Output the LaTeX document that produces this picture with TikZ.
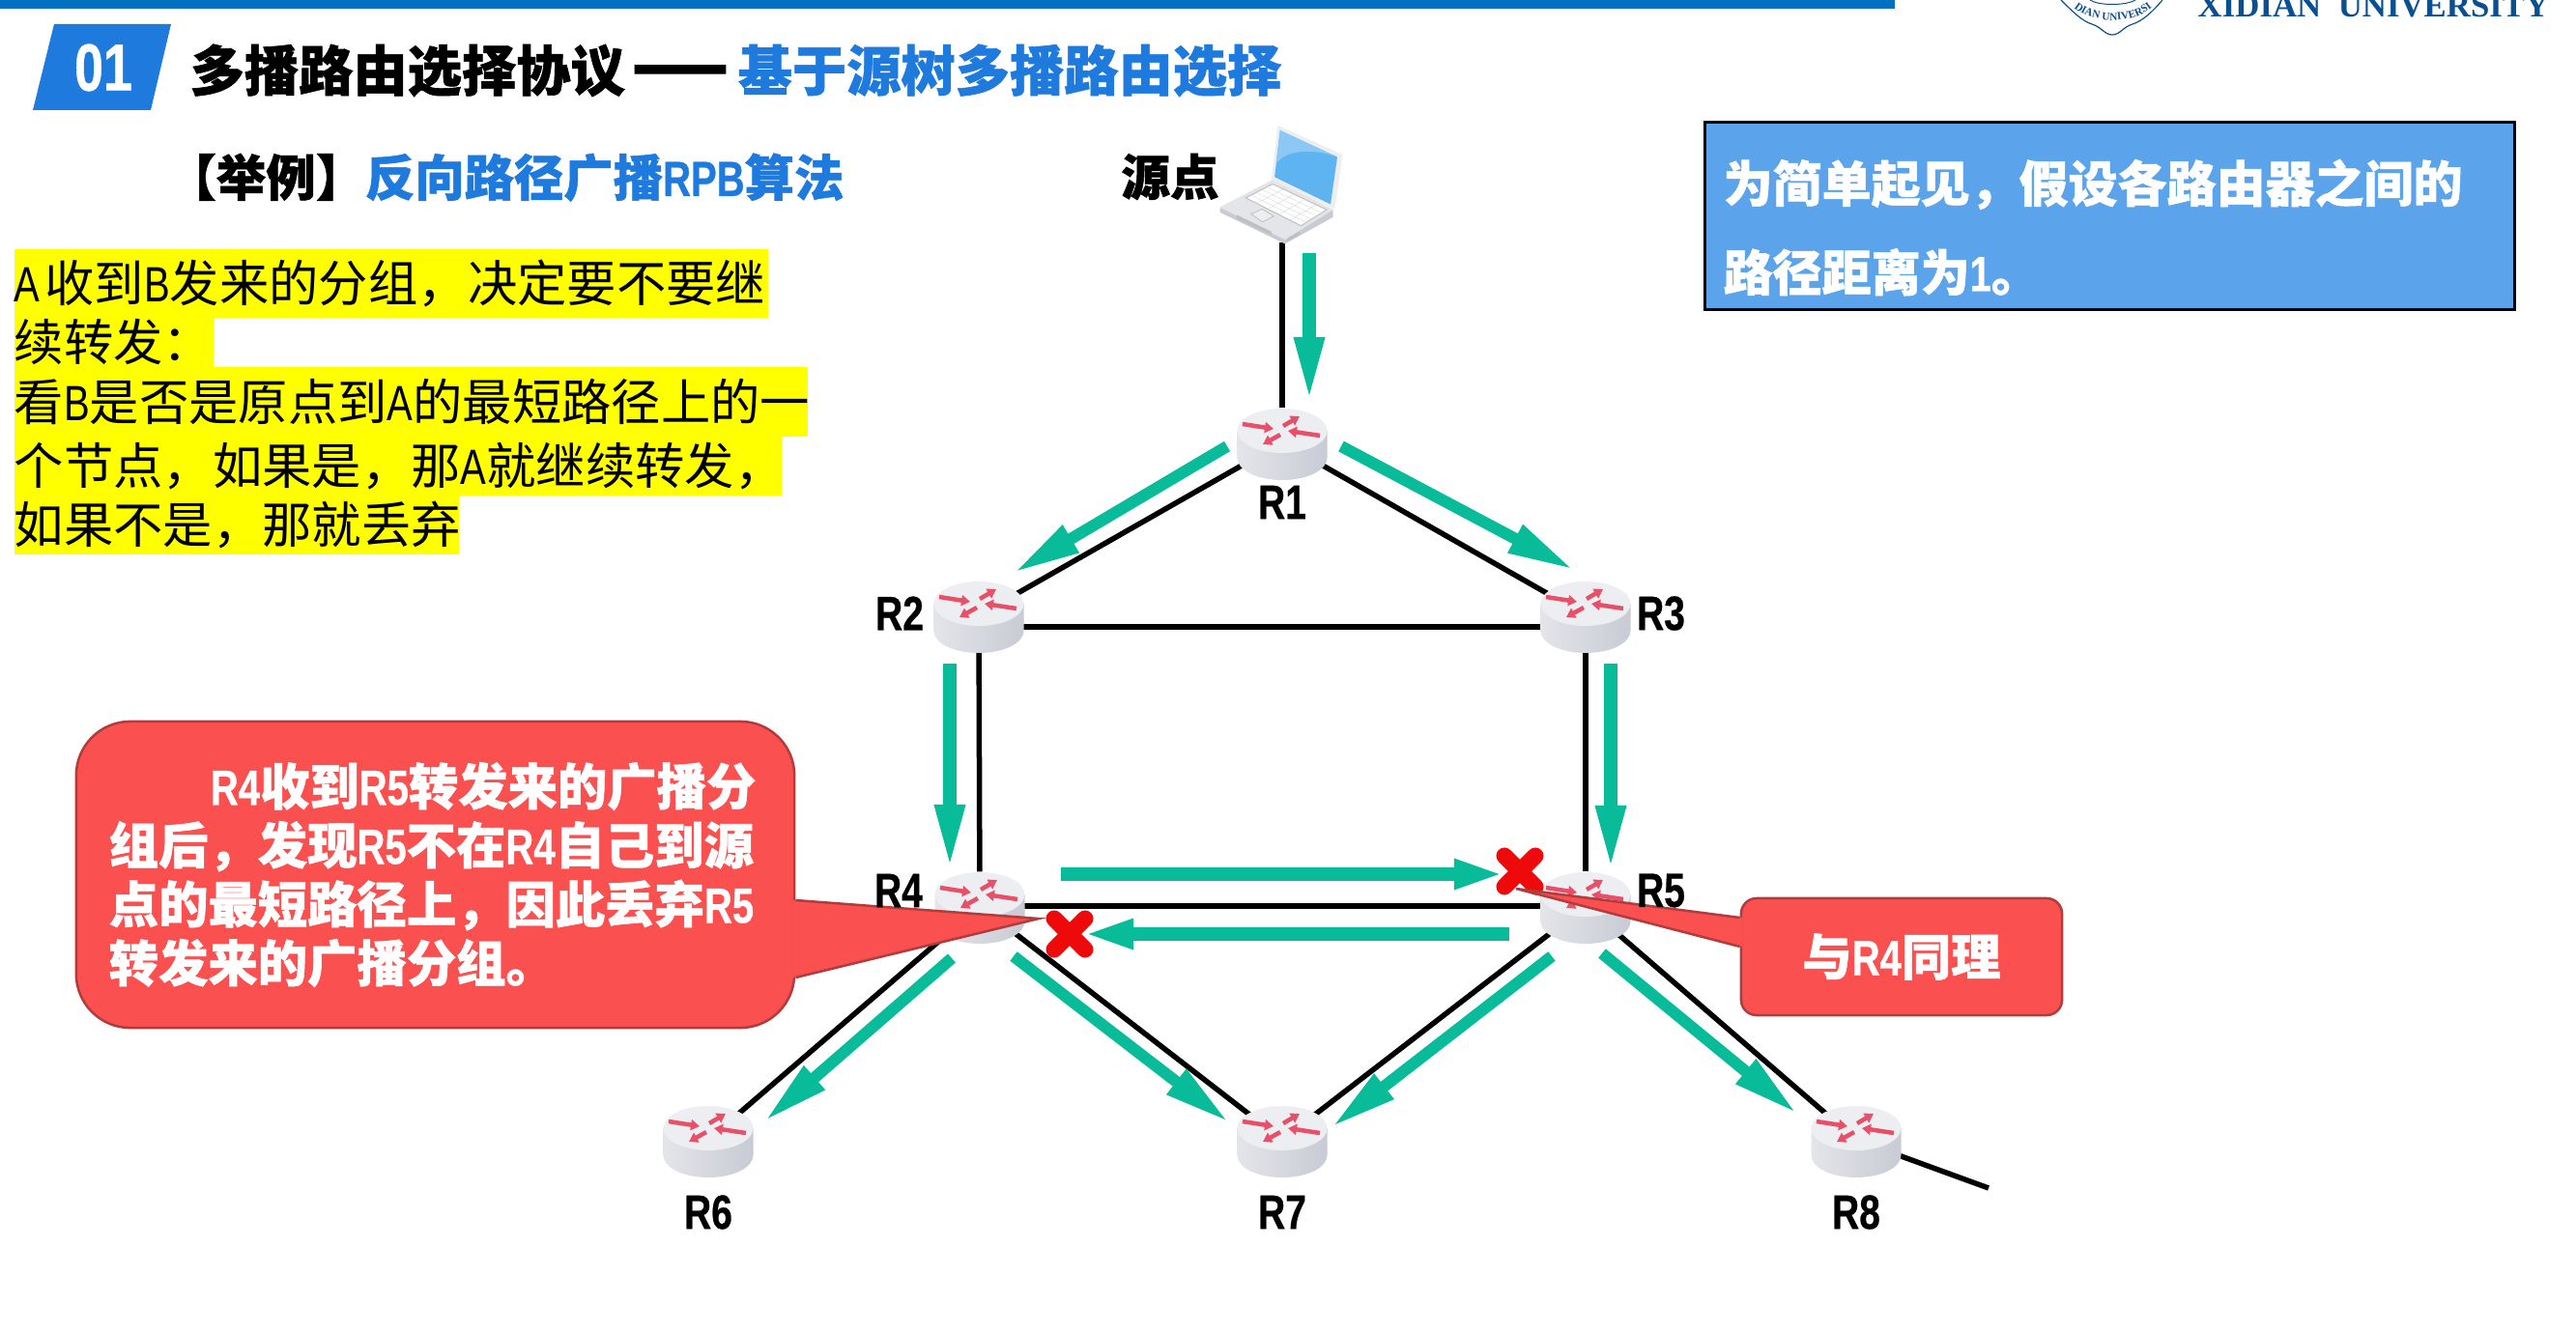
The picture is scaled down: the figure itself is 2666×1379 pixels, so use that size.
\documentclass[tikz,border=0pt]{standalone}
\usepackage{fontspec}
\usepackage{xcolor}
\usepackage{tikz}
\usetikzlibrary{shapes.geometric,shapes.misc,arrows.meta,backgrounds,calc,decorations.text}
\setmainfont{Noto Sans CJK SC}[BoldFeatures={FakeBold=1}]
\newfontfamily\latf[FakeStretch=.78,BoldFeatures={FakeBold=.6}]{Liberation Sans}
\newfontfamily\logof{Liberation Serif}
\newcommand{\la}[1]{{\latf #1}}
\definecolor{bleuBarre}{RGB}{0,112,192}
\definecolor{bleuTitre}{RGB}{30,122,221}
\definecolor{bleuBoite}{RGB}{91,163,234}
\definecolor{bleuLogo}{RGB}{10,79,143}
\definecolor{vertFlux}{RGB}{8,188,154}
\definecolor{rougeBulle}{RGB}{250,80,80}
\definecolor{rougeBord}{RGB}{178,60,60}
\definecolor{rougeCroix}{RGB}{238,10,10}
\definecolor{rougeFleche}{RGB}{232,80,106}
\definecolor{grisHaut}{RGB}{237,238,242}
\definecolor{grisClair}{RGB}{228,229,233}
\definecolor{grisFonce}{RGB}{200,203,212}
\definecolor{bleuEcran}{RGB}{94,180,240}
\definecolor{bleuReflet}{RGB}{140,200,245}
\definecolor{jaune}{RGB}{255,255,0}
\begin{document}
\begin{tikzpicture}[x=.01cm,y=-.01cm,
  routeur/.style={ellipse,minimum width=.9cm,minimum height=.7cm,inner sep=0pt},
  portable/.style={ellipse,minimum width=1.2cm,minimum height=1.2cm,inner sep=0pt},
  lien/.style={draw=black,line width=.055cm},
  flux/.style={draw=vertFlux,line width=.12cm,-{Triangle[length=.69cm,width=.3cm]}},
  fluxdroit/.style={draw=vertFlux,line width=.14cm,-{Triangle[length=.69cm,width=.28cm]}},
  fluxplat/.style={draw=vertFlux,line width=.14cm,-{Triangle[length=.52cm,width=.28cm]}},
  etiq/.style={font=\latf\bfseries\fontsize{14.2}{17}\selectfont,inner sep=0pt},
  titre/.style={font=\bfseries\fontsize{16}{18}\selectfont,anchor=base west,inner sep=0pt},
  soustitre/.style={font=\bfseries\fontsize{14.6}{17}\selectfont,anchor=base west,inner sep=0pt},
  surligne/.style={fill=jaune,font=\fontsize{14.6}{17}\selectfont,anchor=north west,inner sep=0pt,
                   align=left},
  bulle/.style={rectangle,fill=rougeBulle,draw=rougeBord,line width=.025cm,text=white,inner sep=0pt,
                font=\bfseries\fontsize{14.6}{17.35}\selectfont},
  croix/.style={cross out,draw=rougeCroix,line width=.17cm,line cap=round,minimum size=.32cm,inner sep=0pt,outer sep=0pt},
  fl/.style={draw=rougeFleche,line width=.045cm,-{Triangle[length=.09cm,width=.11cm]}},
  boitier/.pic={
    \path[left color=grisClair,middle color=grisFonce,right color=grisFonce,shading=axis]
      (-46.5,-12) -- (-46.5,16) .. controls (-46.5,29) and (-25.7,39) .. (0,39)
      .. controls (25.7,39) and (46.5,29) .. (46.5,16) -- (46.5,-12) -- cycle;
    \fill[grisHaut] (0,-12) ellipse [x radius=46.5,y radius=23];
    \draw[fl] (-41,-19) -- (-9,-14);
    \draw[fl] (1,-17) -- (18,-27);
    \draw[fl] (39,-7) -- (6,-12);
    \draw[fl] (-2,-8) -- (-20,2);
  }]

  \useasboundingbox (0,0) rectangle (2666,1379);

  % bandeau
  \fill[bleuBarre] (0,0) rectangle (1961,9);
  \draw[bleuLogo,line width=.012cm] (2133,0) .. controls (2145,12) and (2155,22) .. (2165,25)
    .. controls (2175,28) and (2178,36) .. (2186,36) .. controls (2194,36) and (2197,28) .. (2207,25)
    .. controls (2217,22) and (2228,12) .. (2238,0);
  \draw[bleuLogo,line width=.01cm] (2163,0) .. controls (2172,6) and (2200,6) .. (2210,0);
  \path[decorate,decoration={text along path,text align=center,
      text={|\logof\bfseries\fontsize{3.2}{4}\selectfont\color{bleuLogo}|DIAN UNIVERSI}}]
    (2142,3) .. controls (2160,27) and (2212,27) .. (2232,3);
  \node[font=\logof\bfseries\fontsize{9.9}{10}\selectfont,text=bleuLogo,anchor=base west,inner sep=0pt] (logo)
    at (2274,18) {XIDIAN\ \ UNIVERSITY};

  \fill[bleuTitre] (56,25) -- (177,25) -- (156,114) -- (34,114) -- cycle;
  \node[font=\latf\bfseries\fontsize{19.6}{22}\selectfont,text=white,inner sep=0pt] (num) at (107,70) {01};
  \node[titre] (T1) at (196,94) {多播路由选择协议};
  \node[font=\bfseries\fontsize{15.9}{18}\selectfont,inner sep=0pt] (T2) at (704,81) {\scalebox{2.05}[1.4]{—}};
  \node[titre,text=bleuTitre] (T3) at (763,94) {基于源树多播路由选择};
  \node[soustitre] (S1) at (172,203) {【举例】\textcolor{bleuTitre}{反向路径广播\la{RPB}算法}};

  % texte surligne
  \node[surligne,text width=7.8cm,minimum height=.71cm] (L1) at (14,257) {\mbox{\la{A}\hspace{.1em}收到\la{B}发来的分组，决定要不要继}};
  \node[surligne,text width=2.06cm,minimum height=.51cm] (L2) at (14,328) {续转发：};
  \node[surligne,text width=8.21cm,minimum height=.72cm] (L3) at (14,379) {\mbox{看\la{B}是否是原点到\la{A}的最短路径上的一}};
  \node[surligne,text width=7.94cm,minimum height=.61cm] (L4) at (14,451) {\mbox{个节点，如果是，那\la{A}就继续转发，}};
  \node[surligne,text width=4.6cm,minimum height=.61cm] (L5) at (14,512) {如果不是，那就丢弃};

  \node[rectangle,fill=bleuBoite,draw=black,line width=.03cm,inner sep=0pt,
        minimum width=8.37cm,minimum height=1.93cm] (note) at (2183.5,223.5) {};
  \node[text=white,inner sep=0pt,text width=8cm,align=left,anchor=west,
        font=\bfseries\fontsize{14.5}{26.2}\selectfont] (noteT) at (1783,235.5)
    {为简单起见，假设各路由器之间的\\路径距离为\la{1}。};

  % equipements
  \node[portable] (PC) at (1327,190) {};
  \node[routeur] (R1) at (1327,458) {};
  \node[routeur] (R2) at (1013,637) {};
  \node[routeur] (R3) at (1641,637) {};
  \node[routeur] (R4) at (1014,938) {};
  \node[routeur] (R5) at (1641,938) {};
  \node[routeur] (R6) at (733,1180) {};
  \node[routeur] (R7) at (1327,1180) {};
  \node[routeur] (R8) at (1921,1180) {};
  \coordinate (Rfin) at (2058,1230);

  \begin{scope}[on background layer]
    \draw[lien] (PC) -- (R1);
    \draw[lien] (R1) -- (R2);
    \draw[lien] (R1) -- (R3);
    \draw[lien] ([yshift=-.12cm]R2.center) -- ([yshift=-.12cm]R3.center);
    \draw[lien] (R2) -- (R4);
    \draw[lien] (R3) -- (R5);
    \draw[lien] (R4) -- (R5);
    \draw[lien] (R4) -- (R6);
    \draw[lien] (R4) -- (R7);
    \draw[lien] (R5) -- (R7);
    \draw[lien] (R5) -- (R8);
    \draw[lien] (R8) -- (Rfin);
  \end{scope}

  \pic at (R1) {boitier};
  \pic at (R2) {boitier};
  \pic at (R3) {boitier};
  \pic at (R4) {boitier};
  \pic at (R5) {boitier};
  \pic at (R6) {boitier};
  \pic at (R7) {boitier};
  \pic at (R8) {boitier};

  % portable
  \begin{scope}[shift={(1200,100)},x=.003333cm,y=-.003333cm]
    \fill[grisFonce] (188,345) -- (355,258) -- (540,352) -- (540,375) -- (390,458) -- (188,360) -- cycle;
    \fill[grisClair] (188,345) -- (355,258) -- (540,352) -- (390,445) -- cycle;
    \fill[grisHaut] (348,258) -- (368,90) -- (570,180) -- (545,350) -- cycle;
    \fill[bleuEcran] (358,250) -- (375,105) -- (553,188) -- (532,335) -- cycle;
    \fill[bleuReflet] (375,105) -- (553,188) .. controls (480,160) and (390,165) .. (362,210) -- cycle;
    \fill[white,draw=gray!50,line width=.01cm] (268,315) -- (352,272) -- (520,352) -- (440,402) -- cycle;
    \draw[gray!30,line width=.004cm] (302,332) -- (386,288) (336,350) -- (419,304) (372,367) -- (453,320)
      (406,385) -- (486,336) (285,306) -- (456,392) (302,298) -- (472,382) (318,289) -- (488,372) (335,281) -- (504,362);
    \fill[grisHaut,draw=gray!50,line width=.008cm] (285,365) -- (320,350) -- (355,372) -- (320,390) -- cycle;
    \fill[gray!50] (240,368) -- (348,420) -- (348,430) -- (240,380) -- cycle;
    \fill[gray!50] (398,440) -- (435,420) -- (435,430) -- (398,450) -- cycle;
  \end{scope}
  \node[etiq,font=\bfseries\fontsize{14.4}{17}\selectfont] (src) at (1211,183) {源点};

  % flux de paquets
  \coordinate (a1) at (1355,262);  \coordinate (b1) at (1355,418);
  \coordinate (a2) at (1270,462);  \coordinate (b2) at (1049,593);
  \coordinate (a3) at (1388,462);  \coordinate (b3) at (1629,590);
  \coordinate (a4) at (983,687);   \coordinate (b4) at (983,902);
  \coordinate (a5) at (1667,687);  \coordinate (b5) at (1667,903);
  \coordinate (a6) at (1098,905);  \coordinate (b6) at (1557,905);
  \coordinate (a7) at (1562,967);  \coordinate (b7) at (1121,967);
  \coordinate (a8) at (985,992);   \coordinate (b8) at (791,1161);
  \coordinate (a9) at (1049,990);  \coordinate (b9) at (1272,1162);
  \coordinate (a10) at (1606,990); \coordinate (b10) at (1378,1167);
  \coordinate (a11) at (1658,987); \coordinate (b11) at (1860,1153);
  \draw[fluxdroit] (a1) -- (b1);
  \draw[flux] (a2) -- (b2);
  \draw[flux] (a3) -- (b3);
  \draw[fluxdroit] (a4) -- (b4);
  \draw[fluxdroit] (a5) -- (b5);
  \draw[fluxplat] (a6) -- (b6);
  \draw[fluxplat] (a7) -- (b7);
  \draw[flux] (a8) -- (b8);
  \draw[flux] (a9) -- (b9);
  \draw[flux] (a10) -- (b10);
  \draw[flux] (a11) -- (b11);

  \node[croix] (X1) at (1573,902) {};
  \node[croix] (X2) at (1107,967) {};

  % bulles
  \coordinate (pt4) at (1075,951);
  \coordinate (pt5) at (1569,920);
  \node[bulle,rounded corners=.56cm,minimum width=7.43cm,minimum height=3.17cm,text width=6.85cm,align=left]
    (B4) at (450.5,905.5)
    {\hspace*{1.1cm}\la{R4}收到\la{R5}转发来的广播分\\\hspace*{.05cm}组后，发现\la{R5}不在\la{R4}自己到源\\\hspace*{.05cm}点的最短路径上，因此丢弃\la{R5}\\\hspace*{.05cm}转发来的广播分组。};
  \node[bulle,rounded corners=.16cm,minimum width=3.32cm,minimum height=1.21cm] (B5) at (1968,990.5) {与\la{R4}同理};
  \fill[rougeBulle] ($(B4.east)+(-3,26.5)$) -- (pt4) -- ($(B4.east)+(-3,106.5)$) -- cycle;
  \draw[rougeBord,line width=.025cm] ($(B4.east)+(0,26.5)$) -- (pt4) -- ($(B4.east)+(0,106.5)$);
  \fill[rougeBulle] ($(B5.west)+(3,-40.5)$) -- (pt5) -- ($(B5.west)+(3,-10.5)$) -- cycle;
  \draw[rougeBord,line width=.025cm] ($(B5.west)+(0,-40.5)$) -- (pt5) -- ($(B5.west)+(0,-10.5)$);

  % etiquettes
  \node[etiq] (lR1) at (1327,520) {R1};
  \node[etiq] (lR2) at (931,635) {R2};
  \node[etiq] (lR3) at (1719,635) {R3};
  \node[etiq] (lR4) at (930,922) {R4};
  \node[etiq] (lR5) at (1719,922) {R5};
  \node[etiq] (lR6) at (733,1255) {R6};
  \node[etiq] (lR7) at (1327,1255) {R7};
  \node[etiq] (lR8) at (1921,1255) {R8};
\end{tikzpicture}
\end{document}
